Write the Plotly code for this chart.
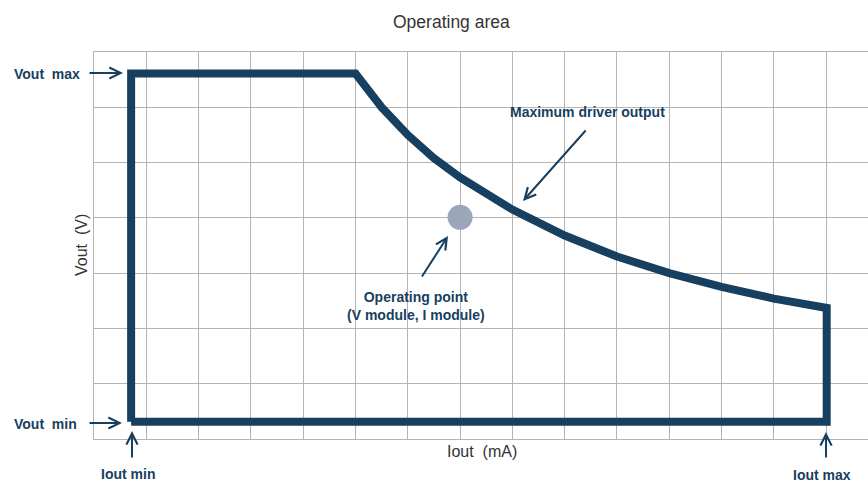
import plotly.graph_objects as go

# ---- data (grid units) ----
iout_boundary = [0.71, 0.71, 5.0, 5.5, 6.0, 6.5, 7.0, 7.5, 8.0, 9.0, 10.0, 11.0, 12.0, 13.0, 14.01, 14.01, 0.71]
vout_boundary = [0.31, 6.61, 6.61, 6.0, 5.5, 5.08, 4.73, 4.42, 4.15, 3.68, 3.3, 3.0, 2.75, 2.54, 2.37, 0.31, 0.31]
op_iout = [7.0]
op_vout = [4.01]

W, H = 868, 482
ML, MR, MT, MB = 94, 0, 52, 43
X_MAX = 14.8
Y_MAX = 7

NAVY = "#173f5f"
GRID = "#b4b4b4"
BOLD = "Liberation Sans, Arial"
REG = "Liberation Sans, Arial"

pw = W - ML - MR
ph = H - MT - MB


def px(xp):
    return (xp - ML) / pw


def py(yp):
    return (H - MB - yp) / ph


fig = go.Figure()
fig.add_trace(go.Scatter(x=iout_boundary, y=vout_boundary, mode="lines",
                         line=dict(color=NAVY, width=8), hoverinfo="skip",
                         showlegend=False))
fig.add_trace(go.Scatter(x=op_iout, y=op_vout, mode="markers",
                         marker=dict(color="#9ba6b9", size=25), showlegend=False))

ann = []


def text(t, x, y, size=14, bold=True, color=NAVY, xanchor="center", angle=0):
    ann.append(dict(text=("<b>%s</b>" % t) if bold else t, x=px(x), y=py(y),
                    xref="paper", yref="paper", showarrow=False,
                    xanchor=xanchor, yanchor="middle", textangle=angle,
                    font=dict(family=BOLD if bold else REG, size=size, color=color)))


def arrow(tx, ty, fx, fy):
    ann.append(dict(text="", x=px(tx), y=py(ty), xref="paper", yref="paper",
                    ax=fx - tx, ay=fy - ty, axref="pixel", ayref="pixel",
                    showarrow=True, arrowhead=5, arrowsize=1.1, arrowwidth=2,
                    arrowcolor=NAVY))


text("Vout&nbsp;&nbsp;max", 12, 74, xanchor="left")
text("Vout&nbsp;&nbsp;min", 12, 424, xanchor="left")
text("Iout min", 128, 474)
text("Iout max", 822, 475)
text("Maximum driver output", 587, 112)
text("Operating point<br>(V module, I module)", 416, 306)
text("Operating area", 451, 22, size=17.5, bold=False, color="#333333")
text("Iout&nbsp;&nbsp;(mA)", 482, 452, size=16, bold=False, color="#333333")
text("Vout&nbsp;&nbsp;(V)", 82, 245, size=16, bold=False, color="#333333", angle=-90)

arrow(123, 73, 88, 73)
arrow(122, 423, 88, 423)
arrow(132, 431, 132, 459)
arrow(826, 432, 826, 459)
arrow(523, 201, 587, 129)
arrow(448, 236, 421, 278)

fig.update_layout(
    width=W, height=H,
    margin=dict(l=ML, r=MR, t=MT, b=MB),
    paper_bgcolor="white", plot_bgcolor="white",
    annotations=ann,
    xaxis=dict(range=[0, X_MAX], dtick=1, tick0=0, showticklabels=False,
               showgrid=True, gridcolor=GRID, gridwidth=1, zeroline=False,
               showline=True, linecolor=GRID, linewidth=1, mirror=True,
               ticks=""),
    yaxis=dict(range=[0, Y_MAX], dtick=1, tick0=0, showticklabels=False,
               showgrid=True, gridcolor=GRID, gridwidth=1, zeroline=False,
               showline=True, linecolor=GRID, linewidth=1, ticks=""),
)

fig.write_html("out.html", config={"displayModeBar": False},
               post_script="document.body.style.margin='0';")
